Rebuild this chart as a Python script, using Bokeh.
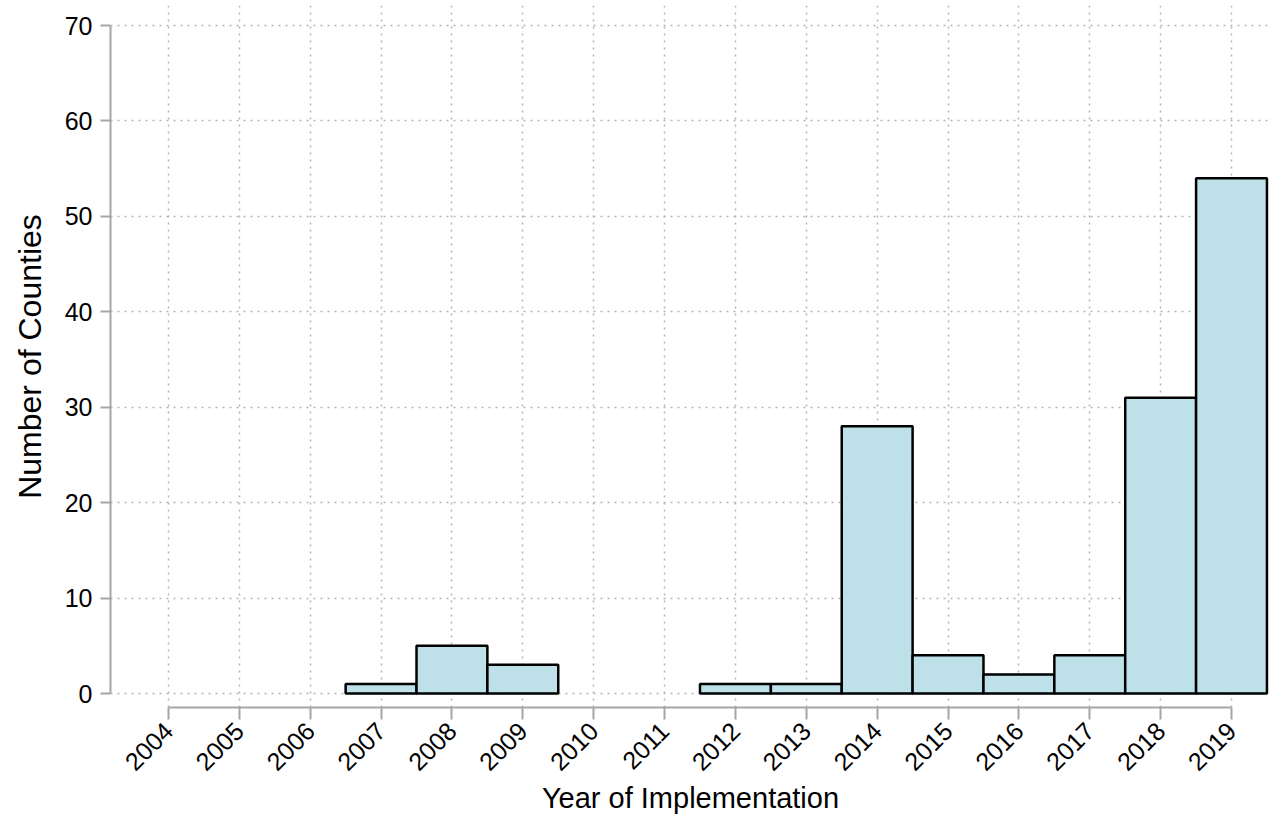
import math
from bokeh.plotting import figure
from bokeh.models import FixedTicker, Range1d
from bokeh.embed import file_html
from bokeh.resources import INLINE

years = [2007, 2008, 2009, 2012, 2013, 2014, 2015, 2016, 2017, 2018, 2019]
counts = [1, 5, 3, 1, 1, 28, 4, 2, 4, 31, 54]
x_ticks = list(range(2004, 2020))
y_ticks = [0, 10, 20, 30, 40, 50, 60, 70]
x_title = "Year of Implementation"
y_title = "Number of Counties"

left = [y - 0.5 for y in years]
right = [y + 0.5 for y in years]

p = figure(width=1272, height=819, output_backend="svg", toolbar_location=None,
           x_range=Range1d(2003.182, 2019.55), y_range=Range1d(-1.467, 72.1),
           min_border_left=110, min_border_right=2, min_border_top=5, min_border_bottom=112)
p.outline_line_color = None
p.background_fill_color = "white"
p.border_fill_color = "white"

p.quad(left=left, right=right, bottom=0, top=counts, fill_color="#bee0e9",
       line_color="black", line_width=2.5)

FONT = "Liberation Sans"
for ax in (p.xaxis[0], p.yaxis[0]):
    ax.axis_line_color = "#a6a6a6"
    ax.axis_line_width = 2
    ax.major_tick_line_color = "#a6a6a6"
    ax.major_tick_line_width = 2
    ax.major_tick_in = 0
    ax.minor_tick_line_color = None
    ax.major_label_text_font = FONT
    ax.major_label_text_color = "black"
    ax.axis_label_text_font = FONT
    ax.axis_label_text_font_style = "normal"
    ax.axis_label_text_color = "black"

p.xaxis.ticker = FixedTicker(ticks=x_ticks)
p.xaxis.bounds = (2004, 2019)
p.xaxis.major_tick_out = 12
p.xaxis.major_label_orientation = math.pi / 4
p.xaxis.major_label_text_font_size = "25px"
p.xaxis.major_label_standoff = 7
p.xaxis.axis_label = x_title
p.xaxis.axis_label_text_font_size = "29px"
p.xaxis.axis_label_standoff = 0

p.yaxis.ticker = FixedTicker(ticks=y_ticks)
p.yaxis.bounds = (0, 70)
p.yaxis.major_tick_out = 10
p.yaxis.major_label_standoff = 8
p.yaxis.major_label_text_font_size = "25px"
p.yaxis.axis_label = y_title
p.yaxis.axis_label_text_font_size = "32px"
p.yaxis.axis_label_standoff = 14

for g in (p.xgrid[0], p.ygrid[0]):
    g.grid_line_color = "#b4b4b4"
    g.grid_line_dash = "2 5"
    g.grid_line_width = 1.5
p.xgrid.ticker = FixedTicker(ticks=x_ticks)
p.ygrid.ticker = FixedTicker(ticks=y_ticks)

open("out.html", "w").write(file_html(p, INLINE))
